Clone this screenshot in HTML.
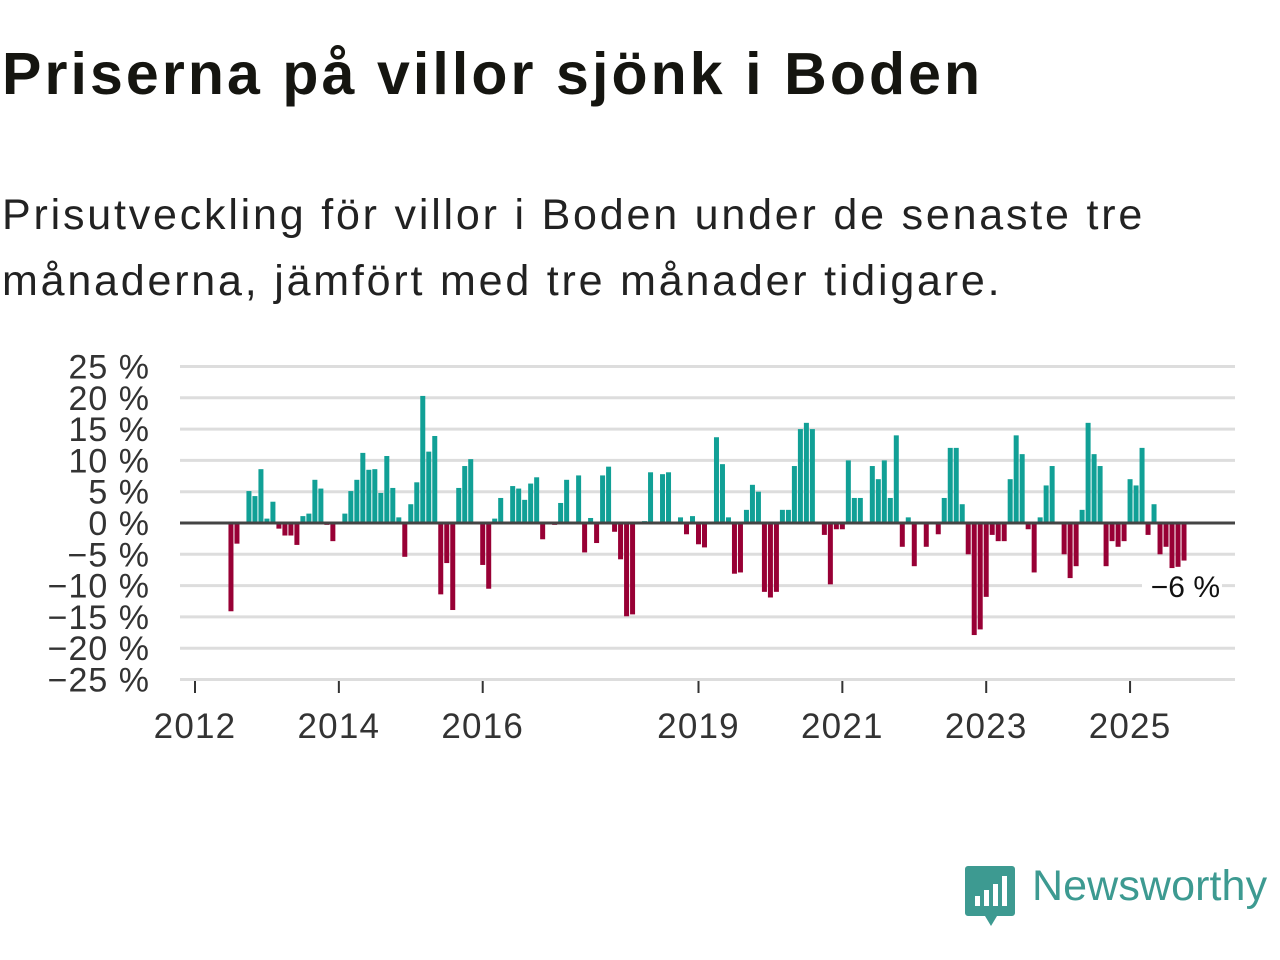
<!DOCTYPE html>
<html><head><meta charset="utf-8"><style>
body{margin:0;background:#fff;width:1280px;height:960px;overflow:hidden;font-family:"Liberation Sans",sans-serif;color:#111}
h1{position:absolute;left:2px;top:40px;margin:0;font-size:59px;font-weight:bold;color:#151510;letter-spacing:3.1px;white-space:nowrap}
.sub{position:absolute;left:2px;top:182px;margin:0;font-size:43px;line-height:66px;color:#222;width:1270px;letter-spacing:2.8px;white-space:nowrap}
svg{position:absolute;left:0;top:0}
</style></head><body>
<h1>Priserna på villor sjönk i Boden</h1>
<p class="sub">Prisutveckling för villor i Boden under de senaste tre<br>månaderna, jämfört med tre månader tidigare.</p>
<svg id="chart" width="1280" height="960"></svg>
<div style="position:absolute;left:965px;top:866px;">
<svg width="50" height="60" style="position:static"><path d="M3 0h44a3 3 0 0 1 3 3v44a3 3 0 0 1-3 3H32l-6 10-6-10H3a3 3 0 0 1-3-3V3a3 3 0 0 1 3-3z" fill="#3d9a91"/><rect x="10" y="30" width="5" height="10" fill="#fff"/><rect x="19" y="24" width="5" height="16" fill="#fff"/><rect x="28" y="18" width="5" height="22" fill="#fff"/><rect x="37" y="10" width="5" height="30" fill="#fff"/></svg>
</div>
<div style="position:absolute;left:1032px;top:862px;font-size:43px;color:#3d9a91;letter-spacing:0.1px">Newsworthy</div>
<script>
const months=[6,7,9,10,11,12,13,14,15,16,17,18,19,20,21,22,23,25,26,27,28,29,30,31,32,33,34,35,36,37,38,39,40,41,42,43,44,45,46,48,49,50,51,53,54,55,56,57,58,60,61,62,64,65,66,67,68,69,70,71,72,73,75,76,78,79,81,82,83,84,85,87,88,89,90,91,92,93,94,95,96,97,98,99,100,101,102,103,105,106,107,108,109,110,111,113,114,115,116,117,118,119,120,122,124,125,126,127,128,129,130,131,132,133,134,135,136,137,138,139,140,141,142,143,145,146,147,148,149,150,151,152,153,154,155,156,157,158,159,160,161,162,163,164,165];
const values=[-14.1,-3.3,5.1,4.3,8.6,0.7,3.4,-0.9,-2,-2,-3.5,1.1,1.5,6.9,5.5,-0.3,-2.9,1.5,5.1,6.9,11.2,8.5,8.6,4.8,10.7,5.6,0.9,-5.4,3,6.5,20.3,11.4,13.9,-11.4,-6.4,-13.9,5.6,9.1,10.2,-6.7,-10.5,0.7,4,5.9,5.5,3.7,6.3,7.3,-2.6,-0.3,3.2,6.9,7.6,-4.7,0.8,-3.2,7.6,9,-1.4,-5.8,-14.9,-14.6,0.3,8.1,7.8,8.1,0.9,-1.8,1.1,-3.4,-3.9,13.7,9.4,0.9,-8.1,-7.9,2.1,6.1,5,-11,-11.9,-11,2.1,2.1,9.1,15,16,15,-1.9,-9.8,-1,-1,10,4,4,9.1,7,10,4,14,-3.8,0.9,-6.9,-3.8,-1.8,4,12,12,3,-5,-17.9,-17,-11.8,-1.9,-2.9,-2.9,7,14,11,-1,-7.9,0.9,6,9.1,-5,-8.8,-6.9,2.1,16,11,9.1,-6.9,-2.9,-3.8,-2.9,7,6,12,-1.9,3,-5,-3.8,-7.2,-7,-6];
const yTicks=[25,20,15,10,5,0,-5,-10,-15,-20,-25];
const xTickYears=[2012,2014,2016,2019,2021,2023,2025];
const NS='http://www.w3.org/2000/svg';
const svg=document.getElementById('chart');
const X0=180,X1=1235;
function y(v){return 523-v*6.26;}
function x(m){return 195+m*5.994;}
function mk(t,a){const e=document.createElementNS(NS,t);for(const k in a)e.setAttribute(k,a[k]);svg.appendChild(e);return e;}
yTicks.forEach(v=>{
  if(v!==0){const g=mk('line',{x1:X0,x2:X1,y1:y(v),y2:y(v),stroke:'#dddddd','stroke-width':3});
  
  }
  const t=mk('text',{x:150,y:y(v)+12,'text-anchor':'end','font-size':34,fill:'#333','letter-spacing':1,'font-family':'Liberation Sans, sans-serif'});
  t.textContent=(v<0?'\u2212'+(-v):v)+' %';
  
  
});
months.forEach((m,i)=>{
  const v=values[i];const cx=x(m);
  const r=mk('rect',{x:cx-2.5,width:5,y:v>=0?y(v):y(0),height:Math.abs(y(v)-y(0)),fill:v>=0?'#11a096':'#980035'});
  
  
});
const zl=mk('line',{x1:X0,x2:X1,y1:y(0),y2:y(0),stroke:'#444','stroke-width':3});


xTickYears.forEach(yr=>{
  const px=x((yr-2012)*12);
  const l=mk('line',{x1:px,x2:px,y1:681,y2:693,stroke:'#333','stroke-width':2});
  
  
  const t=mk('text',{x:px,y:738,'text-anchor':'middle','font-size':35,fill:'#333','letter-spacing':1.2,'font-family':'Liberation Sans, sans-serif'});
  t.textContent=yr;
  
  
});
const last=values[values.length-1];
const bg=mk('rect',{x:1142,y:570,width:80,height:34,fill:'#fff'});


const lv=mk('text',{x:1220,y:597,'text-anchor':'end','font-size':30,fill:'#111','font-family':'Liberation Sans, sans-serif'});
lv.textContent='\u2212'+Math.abs(Math.round(last))+' %';


</script>
</body></html>
